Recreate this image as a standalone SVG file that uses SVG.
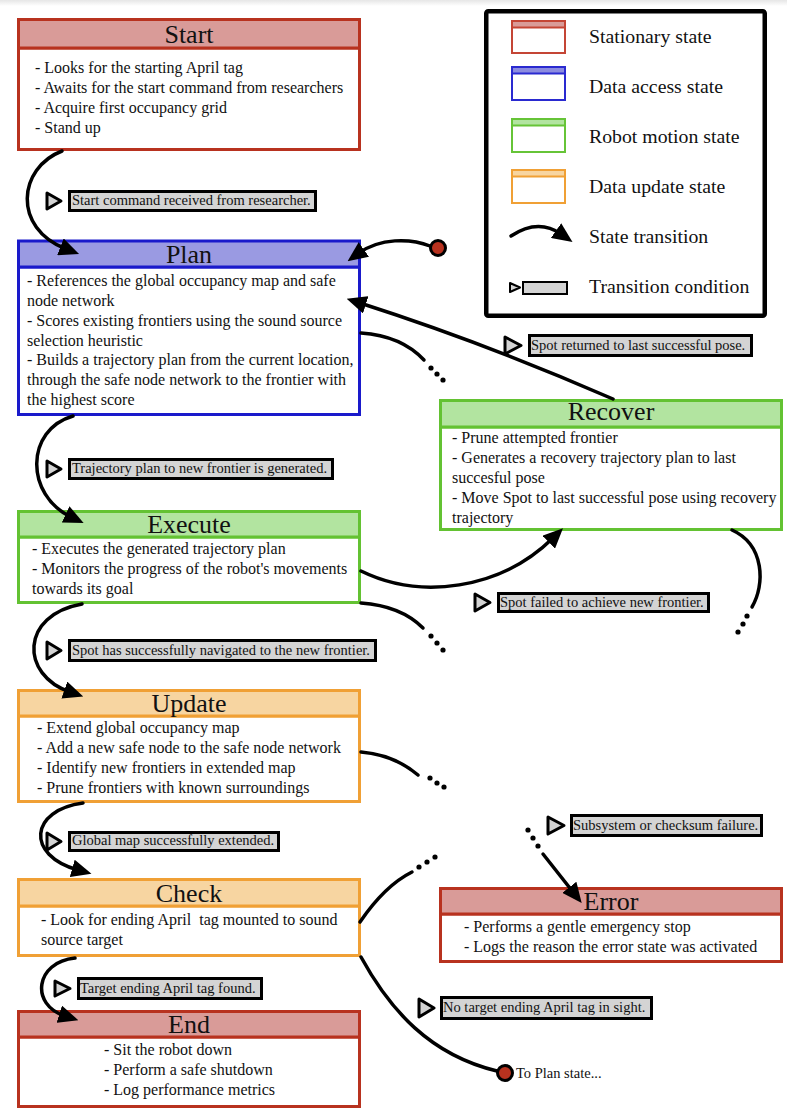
<svg xmlns="http://www.w3.org/2000/svg" width="787" height="1118" viewBox="0 0 787 1118">
<defs>
<linearGradient id="topshade" x1="0" y1="0" x2="0" y2="1"><stop offset="0" stop-color="#e6e6e6"/><stop offset="1" stop-color="#ffffff"/></linearGradient>
<marker id="ah" markerUnits="userSpaceOnUse" viewBox="0 0 20 18" markerWidth="20" markerHeight="18" refX="6" refY="9" orient="auto"><path d="M0,0 L20,9 L0,18 z" fill="#000"/></marker>
</defs>
<style>
text{font-family:"Liberation Serif","Times New Roman",serif;fill:#111}
.title{font-size:26px;text-anchor:middle}
.body{font-size:16px}
.lab{font-size:14.5px}
.leg{font-size:19.8px}
.redH{fill:#d99b98;stroke:#b8321f;stroke-width:3}
.redB{fill:#fff;stroke:#b8321f;stroke-width:3}
.bluH{fill:#9a9ae2;stroke:#1a1acb;stroke-width:3}
.bluB{fill:#fff;stroke:#1a1acb;stroke-width:3}
.grnH{fill:#b2e4a0;stroke:#63c232;stroke-width:3}
.grnB{fill:#fff;stroke:#63c232;stroke-width:3}
.orgH{fill:#f7d5a1;stroke:#f0a035;stroke-width:3}
.orgB{fill:#fff;stroke:#f0a035;stroke-width:3}
.conn{fill:none;stroke:#000;stroke-width:3.5;stroke-linecap:round}
.dot{fill:#000}
.tri{fill:#d4d4d4;stroke:#000;stroke-width:3;stroke-linejoin:round}
.lbox{fill:#d4d4d4;stroke:#000;stroke-width:3}
.term{fill:#b8321f;stroke:#000;stroke-width:3}
</style>
<rect x="0" y="0" width="787" height="1118" fill="#fff"/>
<rect x="0" y="0" width="787" height="6" fill="url(#topshade)"/>

<g id="legend">
<rect x="486.25" y="11.25" width="278.5" height="304.5" rx="2" fill="#fff" stroke="#000" stroke-width="4.5"/>
<rect x="512" y="21" width="53" height="32" fill="#fff" stroke="#c44535" stroke-width="2"/>
<rect x="512" y="21" width="53" height="6.5" fill="#d99b98" stroke="#c44535" stroke-width="2"/>
<text class="leg" x="589" y="43">Stationary state</text>
<rect x="512" y="67" width="53" height="33" fill="#fff" stroke="#2a2ad0" stroke-width="2"/>
<rect x="512" y="67" width="53" height="6.5" fill="#8c8ce0" stroke="#2a2ad0" stroke-width="2"/>
<text class="leg" x="589" y="93">Data access state</text>
<rect x="512" y="119" width="53" height="33" fill="#fff" stroke="#66c437" stroke-width="2"/>
<rect x="512" y="119" width="53" height="6.5" fill="#b2e4a0" stroke="#66c437" stroke-width="2"/>
<text class="leg" x="589" y="143">Robot motion state</text>
<rect x="512" y="170" width="53" height="33" fill="#fff" stroke="#f0a035" stroke-width="2"/>
<rect x="512" y="170" width="53" height="6.5" fill="#f7d5a1" stroke="#f0a035" stroke-width="2"/>
<text class="leg" x="589" y="193">Data update state</text>
<path class="conn" d="M511,236 Q538,218 561,234" marker-end="url(#ah)"/>
<text class="leg" x="589" y="243">State transition</text>
<polygon points="510,283 520,287.5 510,292" fill="#d4d4d4" stroke="#000" stroke-width="2" stroke-linejoin="round"/>
<rect x="523" y="282" width="44" height="12" fill="#d4d4d4" stroke="#000" stroke-width="2"/>
<text class="leg" x="589" y="293">Transition condition</text>
</g>

<g id="start">
<rect class="redB" x="18.5" y="48" width="341" height="101.5"/>
<rect class="redH" x="18.5" y="19.5" width="341" height="28.5"/>
<text class="title" x="189" y="43">Start</text>
<text class="body" x="35" y="73">- Looks for the starting April tag</text>
<text class="body" x="35" y="93">- Awaits for the start command from researchers</text>
<text class="body" x="35" y="113">- Acquire first occupancy grid</text>
<text class="body" x="35" y="133">- Stand up</text>
</g>

<g id="plan">
<rect class="bluB" x="18.5" y="267" width="341" height="147.5"/>
<rect class="bluH" x="18.5" y="241" width="341" height="26"/>
<text class="title" x="189" y="263">Plan</text>
<text class="body" x="27" y="286">- References the global occupancy map and safe</text>
<text class="body" x="27" y="306">node network</text>
<text class="body" x="27" y="326">- Scores existing frontiers using the sound source</text>
<text class="body" x="27" y="345.5">selection heuristic</text>
<text class="body" x="27" y="365">- Builds a trajectory plan from the current location,</text>
<text class="body" x="27" y="385">through the safe node network to the frontier with</text>
<text class="body" x="27" y="405">the highest score</text>
</g>

<g id="execute">
<rect class="grnB" x="18.5" y="537" width="341" height="65.5"/>
<rect class="grnH" x="18.5" y="511.5" width="341" height="25.5"/>
<text class="title" x="189" y="533">Execute</text>
<text class="body" x="32" y="554">- Executes the generated trajectory plan</text>
<text class="body" x="32" y="574">- Monitors the progress of the robot's movements</text>
<text class="body" x="32" y="594">towards its goal</text>
</g>

<g id="recover">
<rect class="grnB" x="440.5" y="427" width="341" height="102.5"/>
<rect class="grnH" x="440.5" y="400.5" width="341" height="26.5"/>
<text class="title" x="611" y="420">Recover</text>
<text class="body" x="452" y="443">- Prune attempted frontier</text>
<text class="body" x="452" y="463">- Generates a recovery trajectory plan to last</text>
<text class="body" x="452" y="483">succesful pose</text>
<text class="body" x="452" y="503">- Move Spot to last successful pose using recovery</text>
<text class="body" x="452" y="523">trajectory</text>
</g>

<g id="update">
<rect class="orgB" x="18.5" y="716" width="341" height="85.5"/>
<rect class="orgH" x="18.5" y="690.5" width="341" height="25.5"/>
<text class="title" x="189" y="711.5">Update</text>
<text class="body" x="37" y="733">- Extend global occupancy map</text>
<text class="body" x="37" y="753">- Add a new safe node to the safe node network</text>
<text class="body" x="37" y="773">- Identify new frontiers in extended map</text>
<text class="body" x="37" y="793">- Prune frontiers with known surroundings</text>
</g>

<g id="check">
<rect class="orgB" x="18.5" y="906" width="341" height="49.5"/>
<rect class="orgH" x="18.5" y="879.5" width="341" height="26.5"/>
<text class="title" x="189" y="901.5">Check</text>
<text class="body" x="41" y="925">- Look for ending April&#160; tag mounted to sound</text>
<text class="body" x="41" y="945">source target</text>
</g>

<g id="error">
<rect class="redB" x="440.5" y="914" width="341" height="47.5"/>
<rect class="redH" x="440.5" y="888.5" width="341" height="25.5"/>
<text class="title" x="611" y="910">Error</text>
<text class="body" x="464" y="932">- Performs a gentle emergency stop</text>
<text class="body" x="464" y="952">- Logs the reason the error state was activated</text>
</g>

<g id="end">
<rect class="redB" x="18.5" y="1037" width="341" height="69.5"/>
<rect class="redH" x="18.5" y="1011.5" width="341" height="25.5"/>
<text class="title" x="189" y="1032.5">End</text>
<text class="body" x="104" y="1055">- Sit the robot down</text>
<text class="body" x="104" y="1075">- Perform a safe shutdown</text>
<text class="body" x="104" y="1095">- Log performance metrics</text>
</g>

<g id="labels">
<polygon class="tri" points="47,193 61,201 47,209"/><rect class="lbox" x="69.5" y="191.5" width="246" height="19"/>
<text class="lab" x="72" y="205">Start command received from researcher.</text>
<polygon class="tri" points="47,461 61,469 47,477"/><rect class="lbox" x="69.5" y="459.5" width="263" height="19"/>
<text class="lab" x="72" y="473">Trajectory plan to new frontier is generated.</text>
<polygon class="tri" points="505,337 521,345.5 505,354"/><rect class="lbox" x="529.5" y="335.5" width="222" height="20"/>
<text class="lab" x="531" y="350">Spot returned to last successful pose.</text>
<polygon class="tri" points="475,594 490,602.5 475,611"/><rect class="lbox" x="498.5" y="593.5" width="210" height="18"/>
<text class="lab" x="500" y="607">Spot failed to achieve new frontier.</text>
<polygon class="tri" points="47,642 61,650.5 47,659"/><rect class="lbox" x="69.5" y="640.5" width="306" height="20"/>
<text class="lab" x="72" y="655">Spot has successfully navigated to the new frontier.</text>
<polygon class="tri" points="47,833 61,841.5 47,850"/><rect class="lbox" x="69.5" y="832.5" width="209" height="18"/>
<text class="lab" x="72" y="845">Global map successfully extended.</text>
<polygon class="tri" points="548,817 564,825.5 548,834"/><rect class="lbox" x="571.5" y="815.5" width="190" height="20"/>
<text class="lab" x="573" y="830">Subsystem or checksum failure.</text>
<polygon class="tri" points="55,981 70,988.5 55,996"/><rect class="lbox" x="78.5" y="978.5" width="183" height="20"/>
<text class="lab" x="80" y="993">Target ending April tag found.</text>
<polygon class="tri" points="419,999 434,1008 419,1017"/><rect class="lbox" x="441.5" y="997.5" width="210" height="21"/>
<text class="lab" x="443" y="1012">No target ending April tag in sight.</text>
<text class="lab" x="516" y="1078">To Plan state...</text>
</g>

<g id="connectors">
<path class="conn" d="M62,151 C18,168 12,228 66,249" marker-end="url(#ah)"/>
<path class="conn" d="M430,246 C410,238 380,238 359,253" marker-end="url(#ah)"/>
<path class="conn" d="M613,399 Q485,343 360,303" marker-end="url(#ah)"/>
<path class="conn" d="M361,333 C390,335 410,345 424,360"/>
<circle class="dot" cx="431" cy="368" r="2.6"/><circle class="dot" cx="437" cy="374" r="2.6"/><circle class="dot" cx="443" cy="380" r="2.6"/>
<path class="conn" d="M73,416 C25,430 25,495 71,517" marker-end="url(#ah)"/>
<path class="conn" d="M361,571 C420,600 500,590 553,538" marker-end="url(#ah)"/>
<path class="conn" d="M361,603 C390,605 410,615 423,628"/>
<circle class="dot" cx="431" cy="636" r="2.6"/><circle class="dot" cx="437" cy="643" r="2.6"/><circle class="dot" cx="443" cy="650" r="2.6"/>
<path class="conn" d="M732,530 C765,545 765,585 752,607"/>
<circle class="dot" cx="747" cy="616" r="2.6"/><circle class="dot" cx="743" cy="624" r="2.6"/><circle class="dot" cx="738" cy="632" r="2.6"/>
<path class="conn" d="M82,604 C20,615 20,675 70,692" marker-end="url(#ah)"/>
<path class="conn" d="M361,752 C385,754 405,764 418,775"/>
<circle class="dot" cx="430" cy="778" r="2.6"/><circle class="dot" cx="437" cy="783" r="2.6"/><circle class="dot" cx="444" cy="787" r="2.6"/>
<path class="conn" d="M83,803 C30,810 25,855 78,870" marker-end="url(#ah)"/>
<path class="conn" d="M360,922 C375,900 392,882 412,872"/>
<circle class="dot" cx="419" cy="867" r="2.6"/><circle class="dot" cx="427" cy="862" r="2.6"/><circle class="dot" cx="435" cy="857" r="2.6"/>
<path class="conn" d="M361,957 C390,1010 430,1055 497,1071"/>
<circle class="dot" cx="528" cy="830" r="2.6"/><circle class="dot" cx="533" cy="838" r="2.6"/><circle class="dot" cx="538" cy="846" r="2.6"/>
<path class="conn" d="M543,854 L573,892" marker-end="url(#ah)"/>
<path class="conn" d="M75,958 C35,962 30,1005 65,1016" marker-end="url(#ah)"/>
<circle class="term" cx="438" cy="248" r="7.5"/>
<circle class="term" cx="505" cy="1073" r="7.5"/>
</g>
</svg>
